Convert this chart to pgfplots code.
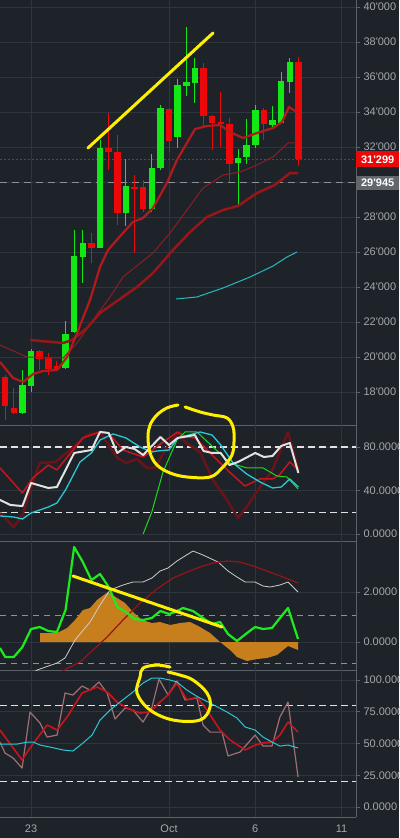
\documentclass[border=0pt]{standalone}
\usepackage{pgfplots}
\pgfplotsset{compat=1.18}
\usepackage{pgfplotstable}
\usepackage{fontspec}
\setmainfont{Liberation Sans}

\definecolor{bgcol}{RGB}{30,35,41}
\definecolor{gridcol}{RGB}{46,53,61}
\definecolor{axiscol}{RGB}{92,98,105}
\definecolor{tickcol}{RGB}{165,168,172}
\definecolor{cgreen}{RGB}{20,232,20}
\definecolor{cred}{RGB}{236,8,8}
\definecolor{mafast}{RGB}{178,26,30}
\definecolor{mamid}{RGB}{140,30,35}
\definecolor{maslow}{RGB}{150,22,25}
\definecolor{macyan}{RGB}{40,185,195}
\definecolor{hlyellow}{RGB}{255,240,0}
\definecolor{pwhite}{RGB}{226,226,226}
\definecolor{pcyan}{RGB}{40,200,215}
\definecolor{pred}{RGB}{200,20,30}
\definecolor{pmaroon}{RGB}{105,20,25}
\definecolor{pgreen}{RGB}{30,215,30}
\definecolor{qgreen}{RGB}{30,235,30}
\definecolor{qorange}{RGB}{198,127,28}
\definecolor{qwhite}{RGB}{205,205,205}
\definecolor{qred}{RGB}{150,20,25}
\definecolor{rrosy}{RGB}{160,110,115}
\definecolor{lblgray}{RGB}{98,103,110}
\definecolor{dashgray}{RGB}{140,146,152}

\pgfplotstableread{
x o h l c
-0.5 16800 19257 16750 18400
0 18343 20457 18000 20343
2 19371 22057 19314 21314
2.5 21429 27257 21371 25771
3 25714 27257 24229 26514
4 26229 32400 26200 31943
5.5 28229 31314 27486 29771
7 28457 31600 28286 30800
7.5 30800 34400 30686 34229
8.5 32571 35886 31943 35543
9 35486 38857 34914 35714
9.5 35657 37086 34514 36514
12 31086 31886 28629 31371
12.5 31429 33600 31029 32114
13 32114 34400 31943 34114
14 33257 34343 33029 33543
14.5 33371 36286 33371 35771
15 35714 37086 35086 36857
}\greenc

\pgfplotstableread{
x o h l c
-1.5 18857 19000 16400 17200
-1 17086 18229 16750 16800
0.5 20343 20400 19257 19886
1 20000 20229 18971 19314
1.5 19486 19771 19257 19314
3.5 26514 27086 25371 26229
4.5 31943 33943 30686 31714
5 31714 32686 27543 28229
6 29714 30400 25943 29600
6.5 29714 30114 28286 28457
8 34171 34229 31714 32343
10 36514 36800 33143 33771
10.5 33771 33830 31829 33371
11 33429 35143 32000 33314
11.5 33314 33657 30000 31029
13.5 34114 34229 32400 33314
15.5 36857 37143 30914 31299
}\redc

\pgfplotsset{
  pane/.style={
    scale only axis, width=356pt, xmin=-1.8, xmax=18.84,
    anchor=north west,
    axis x line*=bottom, axis y line*=right,
    axis line style={draw=axiscol, line width=0.8pt},
    xtick={0,8,13,18}, xticklabels={},
    x tick style={draw=none},
    y tick style={draw=axiscol, line width=0.8pt},
    tick align=outside, major tick length=4pt,
    grid=major, major grid style={draw=gridcol, line width=0.8pt},
    yticklabel style={font=\fontsize{11}{13}\selectfont, text=tickcol, anchor=west},
    every axis plot/.append style={line join=round},
  },
  wick/.style={draw=none, mark=none, forget plot,
    error bars/.cd, y dir=both, y explicit, error mark=none,
    error bar style={draw=#1, line width=1pt}},
  body/.style={draw=none, mark=none, forget plot,
    error bars/.cd, y dir=both, y explicit, error mark=none,
    error bar style={draw=#1, line width=6.5pt}},
}

\begin{document}
\begin{tikzpicture}
\useasboundingbox (0,0) rectangle (399pt,-838pt);
\fill[bgcol] (0,0) rectangle (399pt,-838pt);

% ---------------- price pane
\begin{axis}[pane, at={(0pt,0pt)}, height=425pt,
  ymin=16114, ymax=40400, clip mode=individual,
  ytick={18000,20000,22000,24000,26000,28000,30000,32000,34000,36000,38000,40000},
  yticklabels={18\textquotesingle000,20\textquotesingle000,22\textquotesingle000,24\textquotesingle000,26\textquotesingle000,28\textquotesingle000,{},32\textquotesingle000,34\textquotesingle000,36\textquotesingle000,38\textquotesingle000,40\textquotesingle000}]
\addplot[dashgray, line width=1pt, dash pattern=on 7pt off 5pt] coordinates {(-1.8,29945) (18.84,29945)};
\addplot[cred, line width=1pt, dash pattern=on 2pt off 2pt] coordinates {(-1.8,31299) (18.84,31299)};
\addplot[wick=cgreen] table[x=x, y expr={(\thisrow{h}+\thisrow{l})/2}, y error expr={(\thisrow{h}-\thisrow{l})/2}] {\greenc};
\addplot[wick=cred] table[x=x, y expr={(\thisrow{h}+\thisrow{l})/2}, y error expr={(\thisrow{h}-\thisrow{l})/2}] {\redc};
\addplot[body=cgreen] table[x=x, y expr={(\thisrow{o}+\thisrow{c})/2}, y error expr={abs(\thisrow{c}-\thisrow{o})/2}] {\greenc};
\addplot[body=cred] table[x=x, y expr={(\thisrow{o}+\thisrow{c})/2}, y error expr={abs(\thisrow{c}-\thisrow{o})/2}] {\redc};
% moving averages
\addplot[mamid, line width=1pt] coordinates {(-1.8,20686) (-0.23,20000) (1.86,19943) (2.67,20800) (3.59,22114) (4.58,23429) (5.33,24571) (7.07,25943) (8.06,27086) (9.04,28400) (9.97,29657) (11.13,30400) (12.12,30571) (13.10,30971) (14.03,31429) (14.90,32229) (15.42,32229)};
\addplot[maslow, line width=2.5pt] coordinates {(-0.06,20971) (1.86,20800) (2.38,20971) (3.25,21657) (4.0,22514) (6.14,24000) (7.07,24800) (8.23,26114) (9.22,27143) (10.20,28000) (11.13,28400) (12.0,28629) (13.10,29371) (14.14,29829) (15.01,30514) (15.48,30514)};
\addplot[mafast, line width=2.2pt] coordinates {(-1.8,19714) (-1.04,18800) (-0.46,18571) (0.12,19029) (0.70,19200) (1.51,19257) (2.09,20000) (2.67,21371) (3.42,23257) (4.0,25143) (4.46,26114) (5.33,27086) (5.91,27714) (6.49,27943) (7.07,28514) (7.88,29943) (8.46,31257) (9.04,32229) (9.51,33029) (10.20,33200) (10.96,33257) (11.54,32857) (12.29,32514) (13.10,32800) (14.03,33086) (14.55,33429) (14.96,34286) (15.48,33943)};
\addplot[macyan, line width=1pt] coordinates {(8.41,23315) (9.62,23429) (11.13,23943) (12.70,24571) (14.03,25200) (14.84,25714) (15.42,26000)};
\addplot[hlyellow, line width=3pt, line cap=round] coordinates {(3.30,31943) (10.55,38514)};
\node[fill=cred, text=white, font=\bfseries\fontsize{11}{13}\selectfont, anchor=west, minimum width=43pt, minimum height=16pt, inner sep=0pt] at (axis cs:18.84,31299) {31\textquotesingle299};
\node[fill=lblgray, text=white, font=\bfseries\fontsize{11}{13}\selectfont, anchor=west, minimum width=43pt, minimum height=14pt, inner sep=0pt] at (axis cs:18.84,29945) {29\textquotesingle945};
\end{axis}

% ---------------- pane 1
\begin{axis}[pane, at={(0pt,-425pt)}, height=116pt, clip=false,
  ymin=-6.44, ymax=100.2, ytick={0,40,80}, yticklabels={0.0000,40.0000,80.0000}]
\addplot[pwhite, line width=1.1pt, dash pattern=on 7pt off 4pt] coordinates {(-1.8,80) (18.84,80)};
\addplot[pwhite, line width=1.1pt, dash pattern=on 7pt off 4pt] coordinates {(-1.8,20) (18.84,20)};
\addplot[pmaroon, line width=2.5pt] coordinates {(-1.8,19.3) (-1.0,6.4) (-0.5,17.5) (0.1,46.9) (0.5,65.3) (1.4,66.2) (2.26,77.2) (3.25,91) (4.0,93.8) (5.0,69.9) (5.5,65.3) (6.14,69) (6.72,60.7) (7.19,60.7) (7.88,80) (8.5,92.9) (9.0,83.7) (9.8,75.4) (10.55,49.7) (11.36,31.3) (12.0,14.7) (12.5,24.8) (13.16,40.5) (14.0,58.9) (14.9,93.8) (15.5,58.9)};
\addplot[pred, line width=1.5pt] coordinates {(-1.8,60.7) (-0.5,37.7) (0.1,51.5) (1.0,63.4) (1.5,58.9) (3.0,88.3) (4.0,93.8) (4.5,92.9) (5.33,77.2) (6.5,70.8) (7.65,84.6) (8.5,93.8) (9.0,89.2) (9.5,88.3) (10.5,72.6) (11.5,57) (12.4,44.1) (13.28,50.6) (14.0,50.6) (14.4,54.3) (15.0,66.2) (15.5,58.9)};
\addplot[pgreen, line width=1pt] coordinates {(6.5,0) (7.0,20.2) (7.65,57) (8.46,86.4) (8.93,93.8) (9.62,93.8) (10.55,80) (11.54,65.3) (12.52,60.7) (13.45,60.7) (14.26,53.3) (14.84,52.4) (15.48,41.4)};
\addplot[pcyan, line width=1.3pt] coordinates {(-1.8,16.6) (-1.0,15.6) (-0.5,13.8) (0,19.3) (1.0,24.8) (1.5,28.5) (2.0,40.5) (2.84,66.2) (3.5,74.5) (4.0,86.4) (4.75,92) (5.5,88.3) (6.32,80) (7.0,75.4) (7.3,76.3) (8.0,77.2) (8.5,88.3) (9.8,93.8) (10.5,91) (11.0,81.8) (11.71,65.3) (12.5,55.2) (13.28,47.8) (14.0,42.3) (14.5,43.2) (15.0,50.6) (15.5,43.2)};
\addplot[pwhite, line width=2pt] coordinates {(-1.8,31.3) (-1.2,26.7) (-0.5,25.7) (0,46.9) (1,42.3) (1.5,43.2) (2.5,74.5) (3.5,77.2) (4,93.8) (4.5,92.9) (5,74.5) (5.5,80) (6,78.2) (6.5,72.6) (7.5,89.2) (8,81.8) (8.5,88.3) (9.5,91) (10,76.3) (10.5,74.5) (11,74.5) (11.5,63.4) (12,66.2) (13,74.5) (13.5,70.8) (14,71.7) (14.5,80.9) (15,83.7) (15.5,56.1)};
\addplot[hlyellow, line width=3pt, line cap=round, smooth, tension=0.6] coordinates {(8.52,118.6) (7.88,115.9) (7.30,109.4) (6.90,100.2) (6.78,89.2) (6.90,74.5) (7.30,63.4) (8.06,56.1) (9.04,52.4) (10.38,52.4) (11.07,60.7) (11.65,72.6) (11.77,86.4) (11.71,98.4) (11.36,106.7) (10.55,109.4) (9.80,112.2) (8.93,116.8)};
\end{axis}

% ---------------- pane 2
\begin{axis}[pane, at={(0pt,-541pt)}, height=129pt,
  ymin=-1.12, ymax=4.04, ytick={0,2}, yticklabels={0.0000,2.0000}]
\addplot[dashgray, line width=1pt, dash pattern=on 6pt off 5pt] coordinates {(-1.8,1.08) (18.84,1.08)};
\addplot[dashgray, line width=1pt, dash pattern=on 6pt off 5pt] coordinates {(-1.8,-0.84) (18.84,-0.84)};
\addplot[fill=qorange, draw=none] coordinates {(0.52,0.36) (1.51,0.36) (2.09,0.56) (2.55,0.88) (3.01,1.28) (3.42,1.36) (3.83,1.68) (4.46,2.0) (4.99,1.76) (5.45,1.56) (5.91,1.2) (6.43,0.88) (7.01,0.76) (7.48,0.8) (8.06,0.68) (8.64,0.76) (9.22,0.8) (9.80,0.6) (10.38,0.36) (10.96,0) (11.54,-0.32) (11.94,-0.6) (12.52,-0.76) (13.10,-0.68) (13.68,-0.64) (14.26,-0.52) (14.90,-0.16) (15.19,-0.24) (15.48,-0.32)} \closedcycle;
\addplot[qwhite, line width=0.8pt] coordinates {(0.0,-1.3) (0.35,-1.12) (1.51,-0.84) (1.97,-0.64) (2.55,0.08) (3.42,0.8) (4.0,1.48) (4.58,2.08) (5.33,2.28) (5.91,2.4) (6.49,2.4) (7.01,2.56) (7.48,2.84) (7.94,2.96) (8.46,3.24) (9.39,3.64) (9.97,3.48) (10.84,3.2) (11.42,2.84) (11.94,2.6) (12.41,2.4) (12.99,2.4) (13.45,2.24) (13.86,2.2) (14.43,2.28) (14.90,2.4) (15.48,2.0)};
\addplot[qred, line width=1.2pt] coordinates {(1.5,-1.3) (2.14,-1.04) (2.84,-0.8) (3.59,-0.32) (4.41,0.2) (5.33,0.88) (6.32,1.56) (7.30,2.12) (8.23,2.56) (9.04,2.8) (9.80,3.0) (10.55,3.16) (11.36,3.24) (12.12,3.2) (12.87,3.04) (13.68,2.84) (14.61,2.6) (15.48,2.36)};
\addplot[qgreen, line width=2.2pt] coordinates {(-1.8,-0.24) (-1.5,-0.6) (-1.0,-0.6) (-0.5,-0.2) (0,0.52) (0.5,0.6) (1.0,0.44) (1.5,0.4) (2.0,1.28) (2.5,3.8) (3.0,3.2) (3.5,2.48) (4.0,2.72) (4.5,2.2) (5.0,1.4) (5.5,1.2) (6.0,0.92) (6.5,0.88) (7.0,0.96) (7.5,1.24) (8.0,1.12) (8.35,1.2) (8.81,1.36) (9.39,1.24) (9.97,0.96) (10.49,0.72) (10.96,0.8) (11.42,0.32) (11.94,0.04) (12.52,0.36) (12.99,0.6) (13.45,0.52) (13.97,0.56) (14.43,0.96) (14.90,1.36) (15.48,0.12)};
\addplot[hlyellow, line width=3pt, line cap=round] coordinates {(2.43,2.64) (11.07,0.6)};
\end{axis}

% ---------------- pane 3
\begin{axis}[pane, at={(0pt,-670pt)}, height=147pt, clip=false,
  ymin=-7.87, ymax=107.9, ytick={0,25,50,75,100},
  yticklabels={0.0000,25.0000,50.0000,75.0000,100.0000},
  xticklabels={23,Oct,6,11},
  xticklabel style={font=\fontsize{11}{13}\selectfont, text=tickcol}]
\addplot[pwhite, line width=1.1pt, dash pattern=on 7pt off 4pt] coordinates {(-1.8,80) (18.84,80)};
\addplot[pwhite, line width=1.1pt, dash pattern=on 7pt off 4pt] coordinates {(-1.8,20) (18.84,20)};
\addplot[rrosy, line width=1.2pt] coordinates {(-1.8,51.2) (-1.51,42.5) (-1.04,38.6) (-0.52,30.7) (-0.06,74.8) (0.52,66.1) (0.93,55.1) (1.51,56.7) (1.97,89.8) (2.43,88.2) (2.96,95.3) (3.42,92.1) (3.94,98.4) (4.41,89.8) (4.87,69.3) (5.45,78) (5.91,76.4) (6.49,66.9) (7.01,78.7) (7.42,100.8) (7.94,88.2) (8.46,99.2) (8.93,84.3) (9.62,85.8) (9.97,64.6) (10.38,59) (11.07,59) (11.42,40.2) (12.12,43.3) (12.99,56.7) (13.45,48) (13.97,48) (14.43,70.9) (14.90,82.7) (15.48,23.6)};
\addplot[pred, line width=1.6pt] coordinates {(-1.8,60.6) (-0.52,37) (-0.06,46.5) (0.93,64.6) (1.51,60.6) (2.09,70.9) (2.96,89.8) (3.83,94.5) (4.41,90.6) (4.99,82.7) (5.57,78) (6.32,74) (6.90,74.8) (7.48,82.7) (7.94,88.2) (8.46,97.6) (9.04,84.3) (9.62,86.6) (10.2,76.4) (10.96,60.6) (11.54,52.8) (12.41,44.9) (12.99,48.8) (13.45,50.4) (13.97,51.2) (14.43,56.7) (14.90,66.9) (15.48,59)};
\addplot[pcyan, line width=1pt] coordinates {(-1.8,49.6) (-0.8,49.6) (-0.2,51.2) (0.12,51.2) (0.52,48.8) (1.1,47.2) (1.86,44.9) (2.43,44.1) (3.01,50.4) (3.54,56.7) (4.0,68.5) (4.58,76.4) (5.16,82.7) (5.91,90.6) (6.49,97.6) (7.01,101.6) (7.48,101.6) (8.06,100) (8.46,98.4) (9.04,92.1) (9.68,86.6) (10.38,81.9) (11.36,74.8) (11.94,70.1) (12.41,63.0) (12.99,60.6) (13.45,55.1) (13.97,51.2) (14.43,48.0) (14.90,48.8) (15.48,46.5)};
\addplot[hlyellow, line width=3pt, line cap=round, smooth, tension=0.6] coordinates {(8.06,110.2) (7.30,111.8) (6.49,109.4) (6.32,102.4) (6.14,89.8) (6.90,76.4) (8.23,68.5) (9.80,68.5) (10.38,78.7) (10.20,89.8) (9.39,100) (8.64,103.9) (7.94,106.3)};
\end{axis}
\end{tikzpicture}
\end{document}
